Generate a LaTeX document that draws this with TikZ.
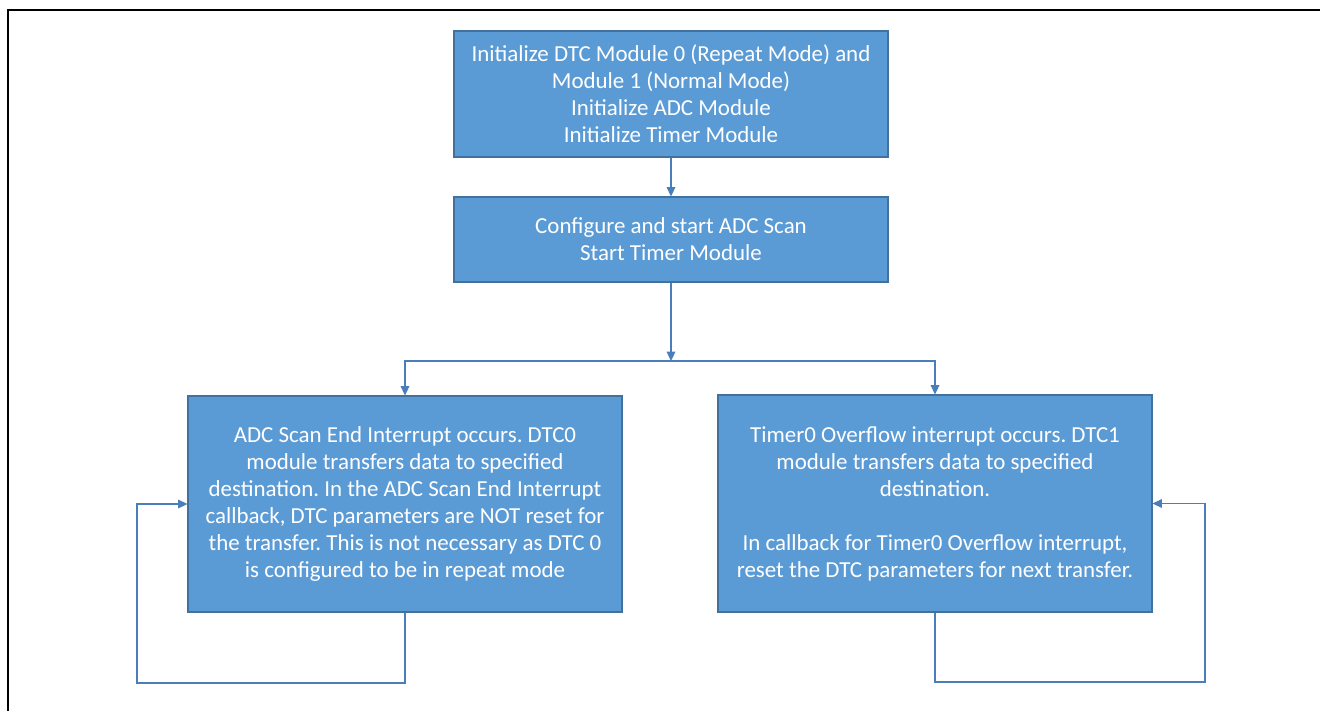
\documentclass[tikz,border=0pt]{standalone}
\usepackage{fontspec}
\setmainfont{Carlito}
\frenchspacing
\usetikzlibrary{arrows.meta}
\definecolor{boxfill}{HTML}{5B9BD5}
\definecolor{boxline}{HTML}{41719C}
\definecolor{flowline}{HTML}{4A7EBB}
\begin{document}
\begin{tikzpicture}[x=0.75pt, y=-0.75pt,
  flowbox/.style={thick, shape=rectangle, draw=boxline, fill=boxfill, text=white, align=center, minimum width=325.5pt, font=\fontsize{17.2}{20.25}\selectfont},
  flowarrow/.style={draw=flowline, line width=0.8pt, -{Triangle[length=7pt, width=6.5pt]}}]
\useasboundingbox (0,0) rectangle (1320,711);
\draw[line width=1.6pt] (1320,10) -- (8,10) -- (8,711);
\node[flowbox, minimum height=94.5pt](init) at (671,94) {Initialize DTC Module 0 (Repeat Mode) and\\Module 1 (Normal Mode)\\Initialize ADC Module\\Initialize Timer Module};
\node[flowbox, minimum height=63.75pt](start) at (671,239.5) {Configure and start ADC Scan\\Start Timer Module};
\node[flowbox, minimum height=162pt](adc) at (405,504) {ADC Scan End Interrupt occurs. DTC0\\module transfers data to specified\\destination. In the ADC Scan End Interrupt\\callback, DTC parameters are NOT reset for\\the transfer. This is not necessary as DTC 0\\is configured to be in repeat mode};
\node[flowbox, minimum height=162.75pt](timer) at (935,503.5) {Timer0 Overflow interrupt occurs. DTC1\\module transfers data to specified\\destination.\\[20.25pt]In callback for Timer0 Overflow interrupt,\\reset the DTC parameters for next transfer.};
\coordinate (split) at (671,361);
\coordinate (loopL) at (137,683);
\coordinate (loopR) at (1205,682);
\draw[flowarrow] (init) -- (start);
\draw[flowarrow] (start) -- (split);
\draw[flowarrow] (split) -| (adc.north);
\draw[flowarrow] (split) -| (timer.north);
\draw[flowarrow] (adc.south) |- (loopL) |- (adc.west);
\draw[flowarrow] (timer.south) |- (loopR) |- (timer.east);
\end{tikzpicture}
\end{document}
